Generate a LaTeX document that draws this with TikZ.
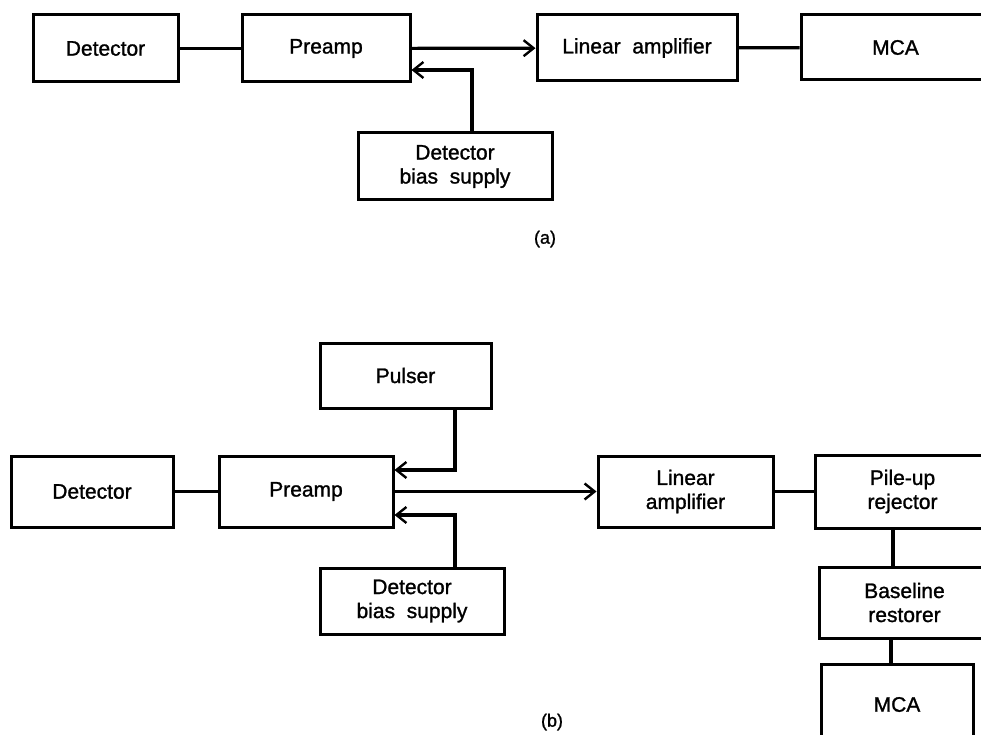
\documentclass[tikz,border=0pt]{standalone}
\usepackage{fontspec}
\setmainfont{Liberation Sans}[BoldFont={Liberation Sans},BoldFeatures={FakeBold=1.2}]
\usetikzlibrary{arrows.meta}
\begin{document}
\begin{tikzpicture}[x=1pt,y=-1pt,
  blk/.style={draw,line width=3pt,inner sep=0pt,align=center,
    font=\fontsize{21}{24}\selectfont\bfseries},
  conn/.style={line width=3.2pt},
  arr/.style={line width=3.2pt,-{Straight Barb[length=10pt,width=16pt,line width=2.4pt]}},
  lbl/.style={font=\fontsize{18}{20}\selectfont\bfseries}]
\useasboundingbox[fill=white] (0,0) rectangle (981,735);
% (a)
\node[blk,minimum width=145pt,minimum height=67pt] (detA) at (105.5,48.5) {Detector};
\node[blk,minimum width=168pt,minimum height=67pt] (preA) at (326,48.5) {Preamp};
\node[blk,minimum width=200pt,minimum height=66pt] (linA) at (637,48) {Linear\ \ amplifier};
\node[blk,minimum width=189pt,minimum height=65pt] (mcaA) at (895.5,47.5) {MCA};
\node[blk,minimum width=194pt,minimum height=67pt] (biasA) at (455,166.5) {Detector\\bias\ \ supply};
\node[lbl] (la) at (545,239) {(a)};
\coordinate (ca) at (472,70);
\draw[conn] (detA) -- (preA);
\draw[arr] (preA) -- (linA);
\draw[conn] (linA) -- (mcaA);
\draw[arr] (biasA.north -| ca) -- (ca) -- (ca -| preA.east);
% (b)
\node[blk,minimum width=171pt,minimum height=65pt] (pul) at (405.5,375.5) {Pulser};
\node[blk,minimum width=162pt,minimum height=71pt] (detB) at (92,491.5) {Detector};
\node[blk,minimum width=174pt,minimum height=71pt] (preB) at (306,491.5) {Preamp};
\node[blk,minimum width=175pt,minimum height=71pt] (linB) at (685.5,491.5) {Linear\\amplifier};
\node[blk,minimum width=175pt,minimum height=73pt] (pileB) at (902.5,491.5) {Pile-up\\rejector};
\node[blk,minimum width=171pt,minimum height=71pt] (baseB) at (904.5,602.5) {Baseline\\restorer};
\node[blk,minimum width=152pt,minimum height=81pt] (mcaB) at (897,704.5) {MCA};
\node[blk,minimum width=184pt,minimum height=66pt] (biasB) at (412,601) {Detector\\bias\ \ supply};
\node[lbl] (lb) at (552,722) {(b)};
\coordinate (cp) at (455,470);
\coordinate (cb) at (455,515);
\coordinate (v1) at (893,0);
\coordinate (v2) at (891,0);
\draw[conn] (detB) -- (preB);
\draw[arr] (preB) -- (linB);
\draw[conn] (linB) -- (pileB);
\draw[arr] (pul.south -| cp) -- (cp) -- (cp -| preB.east);
\draw[arr] (biasB.north -| cb) -- (cb) -- (cb -| preB.east);
\draw[conn] (pileB.south -| v1) -- (baseB.north -| v1);
\draw[conn] (baseB.south -| v2) -- (mcaB.north -| v2);
\end{tikzpicture}
\end{document}
